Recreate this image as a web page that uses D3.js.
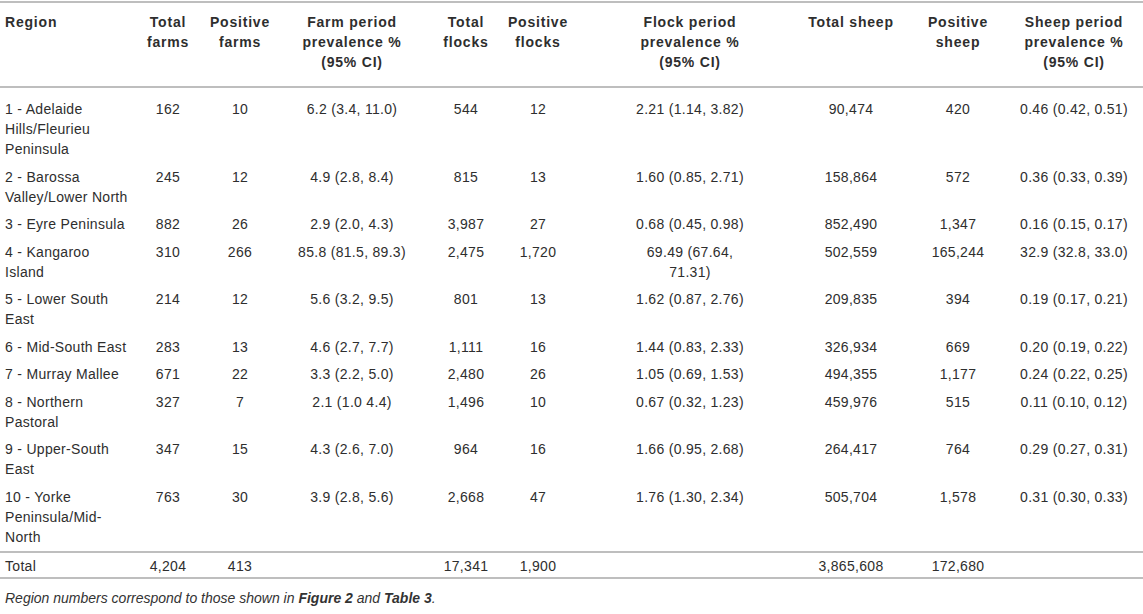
<!DOCTYPE html>
<html>
<head>
<meta charset="utf-8">
<script src="https://cdn.jsdelivr.net/npm/d3@7/dist/d3.min.js"></script>
<style>
  html, body { margin: 0; padding: 0; background: #fff; }
  svg { display: block; }
  text { font-family: "Liberation Sans", Arial, Helvetica, sans-serif; fill: #2e2e2e; }
</style>
</head>
<body>
<svg id="chart" width="1143" height="614"></svg>
<script>
// ---------- DATA ----------
const headers = [
  "Region", "Total\nfarms", "Positive\nfarms", "Farm period\nprevalence %\n(95% CI)",
  "Total\nflocks", "Positive\nflocks", "Flock period\nprevalence %\n(95% CI)",
  "Total sheep", "Positive\nsheep", "Sheep period\nprevalence %\n(95% CI)"
];
const regions = [
  "1 - Adelaide\nHills/Fleurieu\nPeninsula",
  "2 - Barossa\nValley/Lower North",
  "3 - Eyre Peninsula",
  "4 - Kangaroo\nIsland",
  "5 - Lower South\nEast",
  "6 - Mid-South East",
  "7 - Murray Mallee",
  "8 - Northern\nPastoral",
  "9 - Upper-South\nEast",
  "10 - Yorke\nPeninsula/Mid-\nNorth"
];
const totalFarms    = [162, 245, 882, 310, 214, 283, 671, 327, 347, 763];
const positiveFarms = [10, 12, 26, 266, 12, 13, 22, 7, 15, 30];
const farmPrev = [
  "6.2 (3.4, 11.0)", "4.9 (2.8, 8.4)", "2.9 (2.0, 4.3)", "85.8 (81.5, 89.3)", "5.6 (3.2, 9.5)",
  "4.6 (2.7, 7.7)", "3.3 (2.2, 5.0)", "2.1 (1.0 4.4)", "4.3 (2.6, 7.0)", "3.9 (2.8, 5.6)"
];
const totalFlocks    = [544, 815, 3987, 2475, 801, 1111, 2480, 1496, 964, 2668];
const positiveFlocks = [12, 13, 27, 1720, 13, 16, 26, 10, 16, 47];
const flockPrev = [
  "2.21 (1.14, 3.82)", "1.60 (0.85, 2.71)", "0.68 (0.45, 0.98)", "69.49 (67.64,\n71.31)", "1.62 (0.87, 2.76)",
  "1.44 (0.83, 2.33)", "1.05 (0.69, 1.53)", "0.67 (0.32, 1.23)", "1.66 (0.95, 2.68)", "1.76 (1.30, 2.34)"
];
const totalSheep    = [90474, 158864, 852490, 502559, 209835, 326934, 494355, 459976, 264417, 505704];
const positiveSheep = [420, 572, 1347, 165244, 394, 669, 1177, 515, 764, 1578];
const sheepPrev = [
  "0.46 (0.42, 0.51)", "0.36 (0.33, 0.39)", "0.16 (0.15, 0.17)", "32.9 (32.8, 33.0)", "0.19 (0.17, 0.21)",
  "0.20 (0.19, 0.22)", "0.24 (0.22, 0.25)", "0.11 (0.10, 0.12)", "0.29 (0.27, 0.31)", "0.31 (0.30, 0.33)"
];
const totalLabel = "Total";
const totals = [4204, 413, null, 17341, 1900, null, 3865608, 172680, null];
const footnoteParts = [
  { t: "Region numbers correspond to those shown in ", b: false },
  { t: "Figure 2", b: true },
  { t: " and ", b: false },
  { t: "Table 3", b: true },
  { t: ".", b: false }
];

// ---------- LAYOUT ----------
const W = 1143;
const fmt = d3.format(",");
const svg = d3.select("#chart");

const colKeys = d3.range(headers.length);
const colX = d3.scaleOrdinal()
  .domain(colKeys)
  .range([5, 168, 240, 352, 466, 538, 690, 851, 958, 1074]);
const anchor = k => (k === 0 ? "start" : "middle");

const lineStep = 20;
const rowGap = 7.5;
const baseOff = 5;
const bodySize = 14;
const bodySpacing = 0.3;

const lineColor = "#a8a8a8";
const rule = y => svg.append("line")
  .attr("x1", 0).attr("x2", W).attr("y1", y).attr("y2", y)
  .attr("stroke", lineColor).attr("stroke-width", 1.5);

// rules
rule(2);
rule(87);
rule(552);
rule(578);

// header
const headerY = d3.scaleLinear().domain([0, 1]).range([22, 22 + 20]);
const hg = svg.append("g");
headers.forEach((h, k) => {
  const t = hg.append("text")
    .attr("text-anchor", anchor(k))
    .attr("font-size", 14)
    .attr("font-weight", "bold")
    .attr("letter-spacing", 0.8);
  h.split("\n").forEach((ln, i) => {
    t.append("tspan").attr("x", colX(k)).attr("y", headerY(i) + baseOff).text(ln);
  });
});

// body rows
const rows = regions.map((r, i) => [
  r, fmt(totalFarms[i]), fmt(positiveFarms[i]), farmPrev[i],
  fmt(totalFlocks[i]), fmt(positiveFlocks[i]), flockPrev[i],
  fmt(totalSheep[i]), fmt(positiveSheep[i]), sheepPrev[i]
]);
const nLines = rows.map(r => d3.max(r, c => c.split("\n").length));
const startLine = [];
let acc = 0;
nLines.forEach(n => { startLine.push(acc); acc += n; });
const bodyTop = 109;
const rowY = (i, li) => bodyTop + (startLine[i] + li) * lineStep + i * rowGap;

const bg = svg.append("g");
rows.forEach((r, i) => {
  r.forEach((cell, k) => {
    const t = bg.append("text")
      .attr("text-anchor", anchor(k))
      .attr("font-size", bodySize)
      .attr("letter-spacing", bodySpacing);
    cell.split("\n").forEach((ln, li) => {
      t.append("tspan").attr("x", colX(k)).attr("y", rowY(i, li) + baseOff).text(ln);
    });
  });
});

// total row
const totalY = 565.5;
const tg = svg.append("g");
tg.append("text").attr("x", colX(0)).attr("y", totalY + baseOff)
  .attr("font-size", bodySize).attr("letter-spacing", bodySpacing)
  .attr("text-anchor", "start").text(totalLabel);
totals.forEach((v, j) => {
  if (v === null) return;
  tg.append("text").attr("x", colX(j + 1)).attr("y", totalY + baseOff)
    .attr("font-size", bodySize).attr("letter-spacing", bodySpacing)
    .attr("text-anchor", "middle").text(fmt(v));
});

// footnote
const fn = svg.append("text").attr("x", 5).attr("y", 598 + 5)
  .attr("font-size", 14).attr("font-style", "italic").style("fill", "#333");
footnoteParts.forEach(p => {
  fn.append("tspan").attr("font-weight", p.b ? "bold" : "normal").text(p.t);
});
</script>
</body>
</html>
